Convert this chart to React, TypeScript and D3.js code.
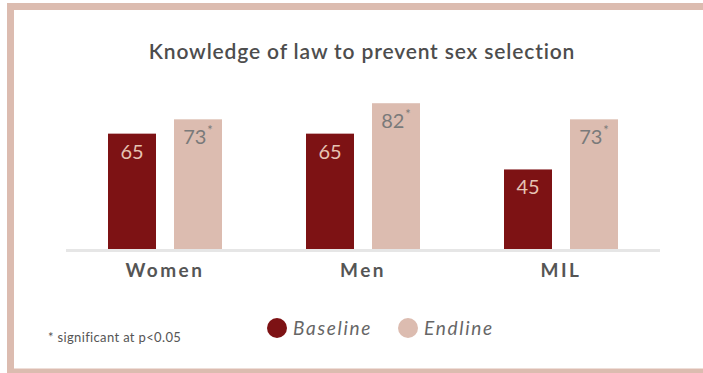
import React from "react";
import * as d3 from "d3";

const categories = ["Women", "Men", "MIL"];
const seriesNames = ["Baseline", "Endline"];
const baselineValues = [65, 65, 45];
const endlineValues = [73, 82, 73];
const endlineSignificant = [true, true, true];
const title = "Knowledge of law to prevent sex selection";
const footnote = "* significant at p<0.05";

const colors = { Baseline: "#7d1214", Endline: "#dcbcb0" };
const labelColors = { Baseline: "#e6c3b3", Endline: "#7a7a7a" };
const FONT = "Lato, 'Noto Sans', sans-serif";

export default function App() {
  const W = 703, H = 373;
  const x = d3.scaleBand<string>().domain(categories).range([66, 660]).paddingInner(0).paddingOuter(0);
  const xs = d3.scaleBand<string>().domain(seriesNames).range([42, 156]).paddingInner(0.2727).paddingOuter(0);
  const y = d3.scaleLinear().domain([0, 100]).range([250, 71]);

  const data = categories.map((c, i) => ({
    cat: c,
    vals: [
      { s: "Baseline", v: baselineValues[i], sig: false },
      { s: "Endline", v: endlineValues[i], sig: endlineSignificant[i] },
    ],
  }));

  return (
    <svg width={W} height={H} style={{ position: "absolute", left: 0, top: 0, background: "#fff" }} fontFamily={FONT}>
      <rect x={10.5} y={6.5} width={740} height={365.5} fill="#fff" stroke="#dcbcb0" strokeWidth={7} />
      <text x={362} y={59} textAnchor="middle" fontSize={21} fontWeight={600} fill="#4d4d4d" letterSpacing={0.85}>{title}</text>
      {data.map((g) =>
        g.vals.map((d) => {
          const bx = (x(g.cat) as number) + (xs(d.s) as number);
          const bw = xs.bandwidth();
          const top = y(d.v);
          return (
            <g key={g.cat + d.s}>
              <rect x={bx} y={top} width={bw} height={y(0) - top} fill={(colors as any)[d.s]} />
              <text x={bx + bw / 2} y={top + 25} textAnchor="middle" fontSize={20} fill={(labelColors as any)[d.s]}>
                {d.v}
                {d.sig ? <tspan fontSize={13} dy={-9} dx={1}>*</tspan> : null}
              </text>
            </g>
          );
        })
      )}
      <rect x={66} y={249} width={594} height={3} fill="#e6e6e6" />
      {categories.map((c) => (
        <text key={c} x={(x(c) as number) + x.bandwidth() / 2} y={277} textAnchor="middle" fontSize={19} fontWeight={700} fill="#555" letterSpacing={2.5}>
          {c}
        </text>
      ))}
      <text x={48} y={342} fontSize={13} fill="#555" letterSpacing={0.35}>{footnote}</text>
      {seriesNames.map((s, i) => {
        const cx = [277, 408][i];
        return (
          <g key={s}>
            <circle cx={cx} cy={328} r={10} fill={(colors as any)[s]} />
            <text x={cx + 16} y={335} fontSize={19} fontStyle="italic" fill="#666" letterSpacing={1.7}>{s}</text>
          </g>
        );
      })}
    </svg>
  );
}
